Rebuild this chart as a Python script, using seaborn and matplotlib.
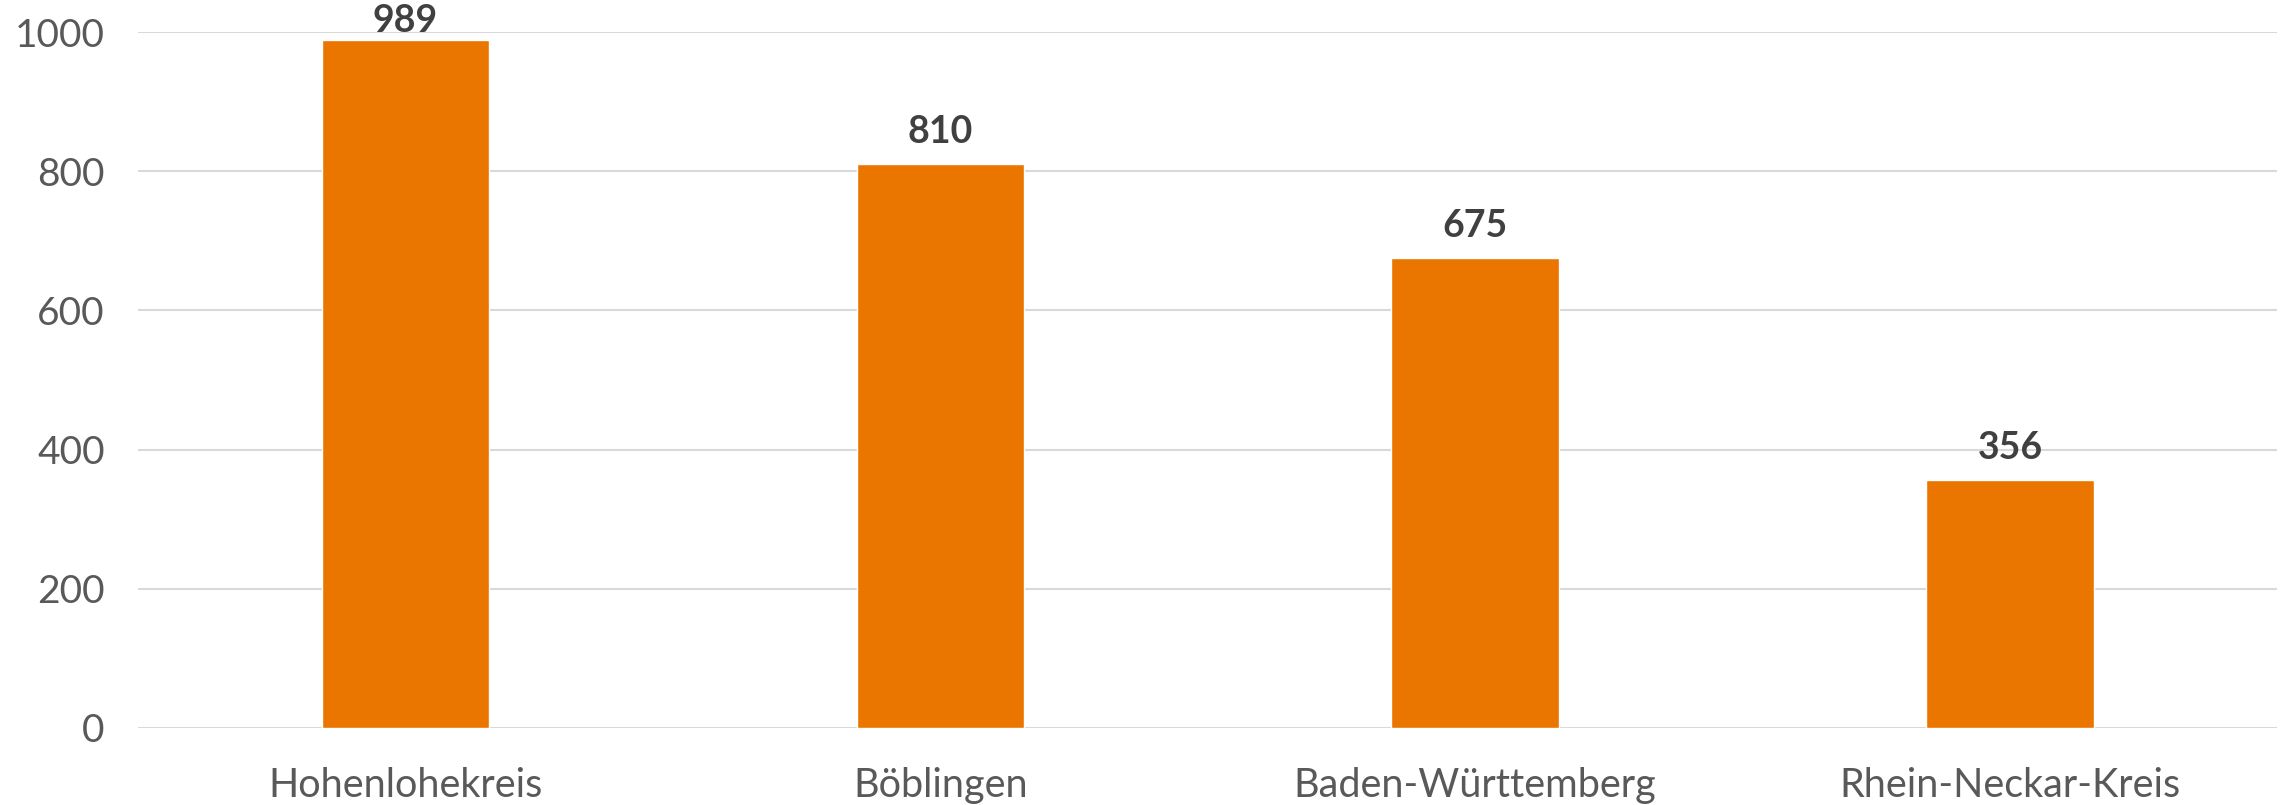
import pandas as pd
import seaborn as sns
import matplotlib.pyplot as plt

# Werte aus dem Diagramm
regionen = ['Hohenlohekreis', 'Böblingen', 'Baden-Württemberg', 'Rhein-Neckar-Kreis']
werte = [989, 810, 675, 356]
y_ticks = [0, 200, 400, 600, 800, 1000]

df = pd.DataFrame({'Region': regionen, 'Wert': werte})

sns.set_theme(style='white')
plt.rcParams['font.family'] = ['Lato', 'DejaVu Sans']

fig = plt.figure(figsize=(22.82, 8.05), dpi=100)
ax = fig.add_axes([0.0605, 0.0957, 0.9375, 0.8645])

sns.barplot(data=df, x='Region', y='Wert', color='#EA7600', saturation=1,
            width=0.313, ax=ax, zorder=3)

ax.set_ylim(0, 1000)
ax.set_xlim(-0.5, 3.5)
ax.set_yticks(y_ticks)
ax.yaxis.grid(True, color='#D9D9D9', linewidth=1.5, zorder=0)
ax.set_axisbelow(True)
for s in ax.spines.values():
    s.set_visible(False)

ax.set_xlabel('')
ax.set_ylabel('')
ax.tick_params(axis='x', length=0, pad=28, labelsize=28.5, labelcolor='#595959')
ax.tick_params(axis='y', length=0, pad=24, labelsize=28, labelcolor='#595959')

# Beschriftung oben auf den Balken; die höchste sitzt knapp auf dem Balken
for i, v in enumerate(werte):
    pad = 1 if v > 950 else 11
    ax.annotate(str(v), (i, v), xytext=(0, pad), textcoords='offset points',
                ha='center', va='bottom', fontsize=27, fontweight='bold',
                color='#404040', zorder=4)

fig.savefig('out.png', dpi=100)
